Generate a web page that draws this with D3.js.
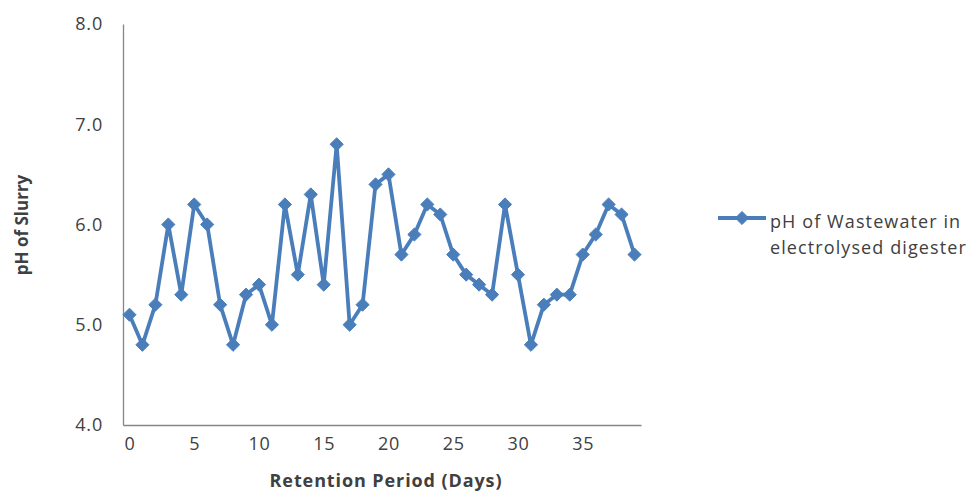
<!DOCTYPE html>
<html><head><meta charset="utf-8">
<script src="https://cdn.jsdelivr.net/npm/d3@7"></script>
<style>body{margin:0;background:#fff;} text{font-family:"Open Sans",sans-serif;fill:#404040;}</style>
</head><body><svg id="c" width="969" height="493"></svg>
<script>
const days = d3.range(0, 40);
const phValues = [5.1,4.8,5.2,6.0,5.3,6.2,6.0,5.2,4.8,5.3,5.4,5.0,6.2,5.5,6.3,5.4,6.8,5.0,5.2,6.4,
                  6.5,5.7,5.9,6.2,6.1,5.7,5.5,5.4,5.3,6.2,5.5,4.8,5.2,5.3,5.3,5.7,5.9,6.2,6.1,5.7];
const xTicks = [0,5,10,15,20,25,30,35];
const yTicks = [4,5,6,7,8];
const seriesName = ["pH of Wastewater in","electrolysed digester"];
const xTitle = "Retention Period (Days)";
const yTitle = "pH of Slurry";

const svg = d3.select("#c");
const color = "#4a7ebb";
const x = d3.scaleLinear().domain([-0.5, 39.5]).range([123, 641]);
const y = d3.scaleLinear().domain([4, 8]).range([425, 24]);

const xAxis = svg.append("g").attr("transform", `translate(0,${y(4)})`)
  .call(d3.axisBottom(x).tickValues(xTicks).tickSize(0).tickPadding(12).tickFormat(d3.format("d")));
const yAxis = svg.append("g").attr("transform", `translate(${x(-0.5)},0)`)
  .call(d3.axisLeft(y).tickValues(yTicks).tickSize(0).tickPadding(20).tickFormat(d3.format(".1f")));
[xAxis, yAxis].forEach(g => {
  g.select(".domain").attr("stroke", "#868686").attr("stroke-width", 1.3);
  g.selectAll("text").attr("font-size", 18).attr("fill", "#404040").attr("font-family", "Open Sans")
    .attr("letter-spacing", 0.8);
});

const line = d3.line().x((d,i) => x(days[i])).y(d => y(d));
svg.append("path").datum(phValues).attr("d", line).attr("fill", "none")
  .attr("stroke", color).attr("stroke-width", 3.8).attr("stroke-linejoin", "round");

const diamond = d3.symbol().type(d3.symbolDiamond2).size(110);
svg.selectAll(".pt").data(phValues).join("path").attr("class", "pt")
  .attr("transform", (d,i) => `translate(${x(days[i])},${y(d)})`)
  .attr("d", diamond).attr("fill", color).attr("stroke", color).attr("stroke-width", 1);

svg.append("text").attr("x", 386).attr("y", 487).attr("text-anchor", "middle")
  .attr("font-size", 18).attr("font-weight", "bold").attr("letter-spacing", 0.9).attr("fill", "#000").text(xTitle);
svg.append("text").attr("transform", "translate(28,225) rotate(-90)").attr("text-anchor", "middle")
  .attr("font-size", 17).attr("font-weight", "bold").attr("fill", "#000").text(yTitle);

// legend
svg.append("line").attr("x1", 718).attr("x2", 766).attr("y1", 218).attr("y2", 218)
  .attr("stroke", color).attr("stroke-width", 3.8);
svg.append("path").attr("transform", "translate(742,218)").attr("d", diamond)
  .attr("fill", color).attr("stroke", color);
svg.append("text").attr("x", 770).attr("y", 228).attr("font-size", 18).attr("letter-spacing", 1.1).text(seriesName[0]);
svg.append("text").attr("x", 770).attr("y", 254).attr("font-size", 18).attr("letter-spacing", 1.1).text(seriesName[1]);
</script></body></html>
